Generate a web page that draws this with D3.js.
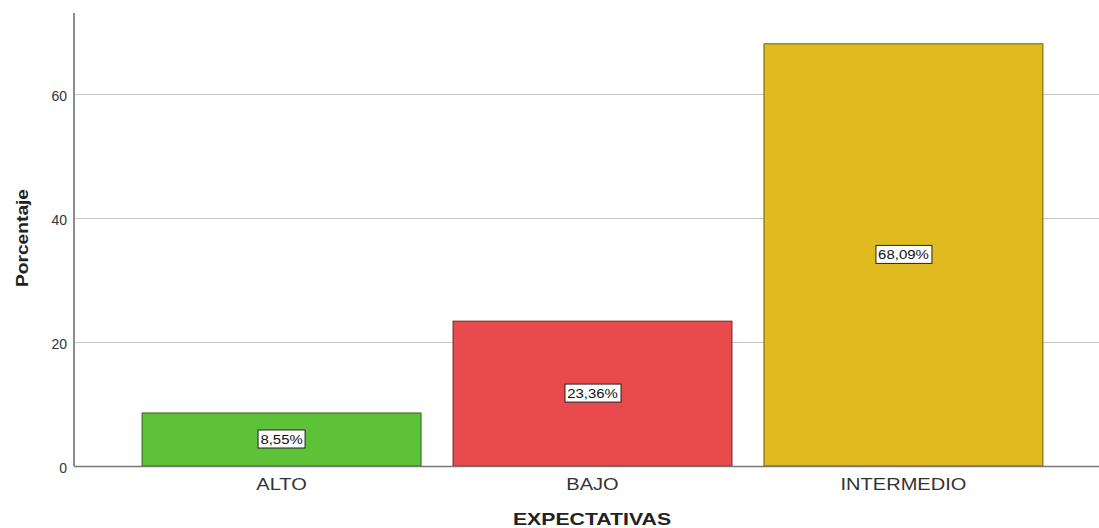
<!DOCTYPE html>
<html>
<head>
<meta charset="utf-8">
<script src="https://cdn.jsdelivr.net/npm/d3@7"></script>
<style>
  body { margin: 0; background: #fff; }
  text { font-family: "Liberation Sans", Arial, sans-serif; }
</style>
</head>
<body>
<div id="chart"></div>
<script>
// data
var categories = ["ALTO", "BAJO", "INTERMEDIO"];
var values = [8.55, 23.36, 68.09];
var valueLabels = ["8,55%", "23,36%", "68,09%"];
var colors = ["#5dc237", "#e94a4b", "#e0bb1f"];
var yTicks = [0, 20, 40, 60];

var W = 1099, H = 528;
var x0 = 74, yBase = 466, yTop = 13;

var svg = d3.select("#chart").append("svg")
    .attr("width", W)
    .attr("height", H);

// the source picture is a bit wider than tall, stretch the text to match
function stretch(sel, sx) {
  sel.each(function() {
    var t = d3.select(this);
    var tx = +t.attr("x") || 0, ty = +t.attr("y") || 0;
    t.attr("transform", "translate(" + tx + "," + ty + ") scale(" + sx + ",1) translate(" + (-tx) + "," + (-ty) + ")");
  });
}

// scales
var x = d3.scaleBand()
    .domain(categories)
    .range([x0, 1111])
    .paddingInner(0.103)
    .paddingOuter(0.219);

var y = d3.scaleLinear()
    .domain([0, 73.06])
    .range([yBase, yTop]);

// gridlines
svg.append("g")
  .selectAll("line")
  .data(yTicks.slice(1))
  .enter().append("line")
    .attr("x1", x0)
    .attr("x2", W)
    .attr("y1", function(d) { return Math.round(y(d)) + 0.5; })
    .attr("y2", function(d) { return Math.round(y(d)) + 0.5; })
    .style("stroke", "#c6c6c6")
    .style("stroke-width", 1);

// bars
svg.append("g")
  .selectAll("rect")
  .data(values)
  .enter().append("rect")
    .attr("x", function(d, i) { return x(categories[i]); })
    .attr("y", function(d) { return y(d); })
    .attr("width", x.bandwidth())
    .attr("height", function(d) { return yBase - y(d); })
    .style("fill", function(d, i) { return colors[i]; })
    .style("stroke", function(d, i) { return d3.rgb(colors[i]).darker(2); })
    .style("stroke-width", 1);

// value labels in white boxes
var lab = svg.append("g")
  .selectAll("g")
  .data(values)
  .enter().append("g")
    .attr("transform", function(d, i) {
      return "translate(" + (x(categories[i]) + x.bandwidth() / 2) + "," + ((y(d) + yBase) / 2) + ")";
    });

lab.append("text")
    .attr("text-anchor", "middle")
    .attr("dy", "0.35em")
    .style("font-size", "13px")
    .style("fill", "#111")
    .text(function(d, i) { return valueLabels[i]; })
    .attr("transform", "scale(1.15,1)")
    .each(function() {
      var b = this.getBBox();
      var w = b.width * 1.15;
      d3.select(this.parentNode).insert("rect", "text")
        .attr("x", Math.round(-w / 2 - 3) + 0.5)
        .attr("y", Math.round(b.y - 2) + 0.5)
        .attr("width", Math.round(w + 5))
        .attr("height", Math.round(b.height + 3))
        .style("fill", "#fff")
        .style("stroke", "#222")
        .style("stroke-width", 1);
    });

// y axis
var yAxis = svg.append("g")
    .attr("transform", "translate(" + x0 + ",0)")
    .call(d3.axisLeft(y).tickValues(yTicks).tickSize(0).tickPadding(7));
yAxis.select(".domain").remove();
yAxis.selectAll("text")
    .attr("dy", "0.45em")
    .style("font-size", "14px")
    .style("fill", "#333")
    .style("font-family", "'Liberation Sans', Arial, sans-serif");

svg.append("line")
    .attr("x1", x0).attr("x2", x0)
    .attr("y1", yTop).attr("y2", yBase)
    .style("stroke", "#8c8c8c")
    .style("stroke-width", 2);

// x axis
var xAxis = svg.append("g")
    .attr("transform", "translate(0," + yBase + ")")
    .call(d3.axisBottom(x).tickSize(0).tickPadding(12));
xAxis.select(".domain").remove();
xAxis.selectAll("text")
    .style("font-size", "17px")
    .style("fill", "#333")
    .style("font-family", "'Liberation Sans', Arial, sans-serif");
stretch(xAxis.selectAll("text"), 1.18);

svg.append("line")
    .attr("x1", x0).attr("x2", W)
    .attr("y1", yBase + 0.5).attr("y2", yBase + 0.5)
    .style("stroke", "#777")
    .style("stroke-width", 1.5);

// axis titles
svg.append("text")
    .attr("x", 592)
    .attr("y", 525)
    .attr("text-anchor", "middle")
    .style("font-size", "17px")
    .style("font-weight", "bold")
    .style("fill", "#222")
    .text("EXPECTATIVAS")
    .call(stretch, 1.25);

svg.append("text")
    .attr("transform", "translate(28,238) rotate(-90) scale(1.2,1)")
    .attr("text-anchor", "middle")
    .style("font-size", "16px")
    .style("font-weight", "bold")
    .style("fill", "#222")
    .text("Porcentaje");
</script>
</body>
</html>
